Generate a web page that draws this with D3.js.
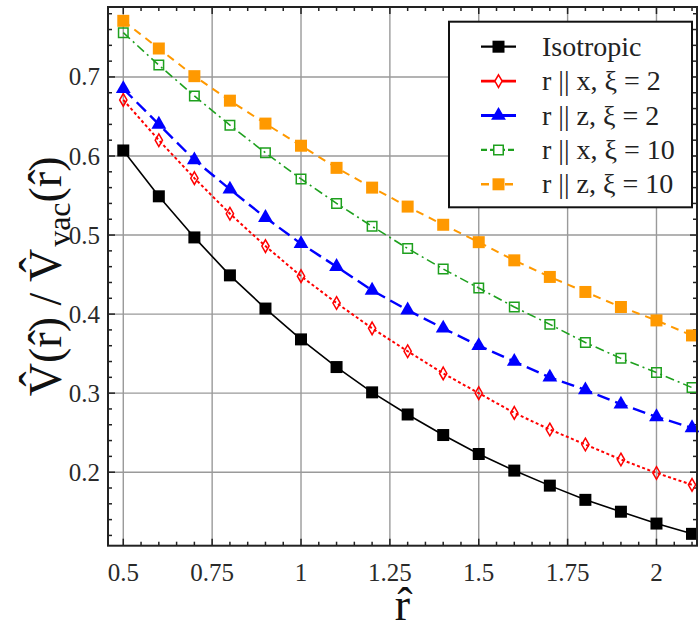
<!DOCTYPE html>
<html>
<head>
<meta charset="utf-8">
<script src="https://cdnjs.cloudflare.com/ajax/libs/d3/7.8.5/d3.min.js"></script>
<style>
    html, body { margin: 0; padding: 0; background: #fff; }
    svg { display: block; }
    svg text { font-family: "Liberation Serif", "DejaVu Serif", serif; }
</style>
</head>
<body>
<div id="chart"></div>
<script>
// datos
const rValues = [0.5, 0.6, 0.7, 0.8, 0.9, 1.0, 1.1, 1.2, 1.3, 1.4, 1.5, 1.6, 1.7, 1.8, 1.9, 2.0, 2.1];
const isotropic = [0.607, 0.549, 0.497, 0.449, 0.407, 0.368, 0.333, 0.301, 0.273, 0.247, 0.223, 0.202, 0.183, 0.165, 0.150, 0.135, 0.122];
const rxXi2 = [0.671, 0.620, 0.572, 0.527, 0.486, 0.448, 0.414, 0.382, 0.353, 0.325, 0.300, 0.275, 0.254, 0.235, 0.216, 0.199, 0.184];
const rzXi2 = [0.685, 0.640, 0.595, 0.558, 0.522, 0.489, 0.460, 0.430, 0.405, 0.382, 0.360, 0.340, 0.320, 0.304, 0.286, 0.270, 0.256];
const rxXi10 = [0.756, 0.715, 0.676, 0.639, 0.604, 0.571, 0.540, 0.511, 0.483, 0.457, 0.433, 0.409, 0.387, 0.364, 0.344, 0.326, 0.307];
const rzXi10 = [0.771, 0.736, 0.701, 0.670, 0.641, 0.613, 0.585, 0.560, 0.536, 0.513, 0.491, 0.468, 0.447, 0.428, 0.409, 0.392, 0.373];

const xTicks = [0.5, 0.75, 1, 1.25, 1.5, 1.75, 2];
const xTickLabels = ['0.5', '0.75', '1', '1.25', '1.5', '1.75', '2'];
const yTicks = [0.2, 0.3, 0.4, 0.5, 0.6, 0.7];
const yTickLabels = ['0.2', '0.3', '0.4', '0.5', '0.6', '0.7'];

const seriesNames = ['Isotropic', 'r || x, ξ = 2', 'r || z, ξ = 2', 'r || x, ξ = 10', 'r || z, ξ = 10'];
const seriesValues = [isotropic, rxXi2, rzXi2, rxXi10, rzXi10];

const styles = [
    { color: '#000000', dash: null, width: 1.6, symbol: d3.symbolSquare, size: 144, filled: true },
    { color: '#ff0000', dash: '3,2.5', width: 2, symbol: d3.symbolDiamond, size: 46, filled: false },
    { color: '#0000ff', dash: '13,6', width: 2.4, symbol: d3.symbolTriangle, size: 95, filled: true },
    { color: '#1ea01e', dash: '9,4,2,4', width: 1.6, symbol: d3.symbolSquare, size: 90, filled: false },
    { color: '#ff9900', dash: '8,6', width: 2, symbol: d3.symbolSquare, size: 144, filled: true }
];

const width = 699;
const height = 623;
const margin = { top: 7, right: 2, bottom: 77.3, left: 108 };

const svg = d3.select('#chart').append('svg')
    .attr('width', width)
    .attr('height', height);

const x = d3.scaleLinear().domain([0.457, 2.114]).range([margin.left, width - margin.right]);
const y = d3.scaleLinear().domain([0.107, 0.7885]).range([height - margin.bottom, margin.top]);

const x0 = x.range()[0], x1 = x.range()[1];
const y0 = y.range()[0], y1 = y.range()[1];

// grid
const grid = svg.append('g');
grid.selectAll('line.gx').data(xTicks).enter().append('line')
    .attr('x1', (d) => x(d)).attr('x2', (d) => x(d))
    .attr('y1', y1).attr('y2', y0)
    .attr('stroke', '#9a9a9a').attr('stroke-width', 1.4);
grid.selectAll('line.gy').data(yTicks).enter().append('line')
    .attr('x1', x0).attr('x2', x1)
    .attr('y1', (d) => y(d)).attr('y2', (d) => y(d))
    .attr('stroke', '#9a9a9a').attr('stroke-width', 1.4);

// ticks (majores y minores) en los cuatro lados
const xMinor = d3.range(0.5, 2.1001, 0.05).filter((v) => !xTicks.some((t) => Math.abs(t - v) < 1e-6));
const yMinor = d3.range(0.12, 0.7801, 0.02).filter((v) => !yTicks.some((t) => Math.abs(t - v) < 1e-6));
const ticks = svg.append('g').attr('stroke', '#222');
[[xTicks, 7], [xMinor, 4]].forEach(([vals, len]) => {
    ticks.selectAll(null).data(vals).enter().append('line')
        .attr('x1', (d) => x(d)).attr('x2', (d) => x(d))
        .attr('y1', y0).attr('y2', y0 - len).attr('stroke-width', 1.5);
    ticks.selectAll(null).data(vals).enter().append('line')
        .attr('x1', (d) => x(d)).attr('x2', (d) => x(d))
        .attr('y1', y1).attr('y2', y1 + len).attr('stroke-width', 1.5);
});
[[yTicks, 7], [yMinor, 4]].forEach(([vals, len]) => {
    ticks.selectAll(null).data(vals).enter().append('line')
        .attr('x1', x0).attr('x2', x0 + len)
        .attr('y1', (d) => y(d)).attr('y2', (d) => y(d)).attr('stroke-width', 1.5);
    ticks.selectAll(null).data(vals).enter().append('line')
        .attr('x1', x1).attr('x2', x1 - len)
        .attr('y1', (d) => y(d)).attr('y2', (d) => y(d)).attr('stroke-width', 1.5);
});

// series
const lineGen = d3.line().x((d) => x(d[0])).y((d) => y(d[1]));
seriesValues.forEach((vals, i) => {
    const st = styles[i];
    const pts = rValues.map((r, j) => [r, vals[j]]);
    svg.append('path')
        .datum(pts)
        .attr('d', lineGen)
        .attr('fill', 'none')
        .attr('stroke', st.color)
        .attr('stroke-width', st.width)
        .attr('stroke-dasharray', st.dash);
    svg.append('g').selectAll('path').data(pts).enter().append('path')
        .attr('d', d3.symbol().type(st.symbol).size(st.size))
        .attr('transform', (d) => `translate(${x(d[0])}, ${y(d[1])})`)
        .attr('fill', st.filled ? st.color : 'none')
        .attr('stroke', st.color)
        .attr('stroke-width', st.filled ? 0 : 1.5);
});

// marco
svg.append('rect')
    .attr('x', x0).attr('y', y1)
    .attr('width', x1 - x0).attr('height', y0 - y1)
    .attr('fill', 'none').attr('stroke', '#222').attr('stroke-width', 2);

// etiquetas de ticks
svg.append('g').selectAll('text').data(xTicks).enter().append('text')
    .attr('x', (d) => x(d))
    .attr('y', 581)
    .attr('text-anchor', 'middle')
    .attr('font-size', '25px')
    .attr('fill', '#2a2a2a')
    .text((d, i) => xTickLabels[i]);
svg.append('g').selectAll('text').data(yTicks).enter().append('text')
    .attr('x', 100)
    .attr('y', (d) => y(d) + 8.5)
    .attr('text-anchor', 'end')
    .attr('font-size', '25px')
    .attr('fill', '#2a2a2a')
    .text((d, i) => yTickLabels[i]);

// titulos de ejes
svg.append('text')
    .attr('x', (x0 + x1) / 2)
    .attr('y', 620)
    .attr('text-anchor', 'middle')
    .attr('font-size', '46px')
    .attr('fill', '#111')
    .text('r\u0302');

const yLabel = svg.append('text')
    .attr('transform', `translate(61, ${(y0 + y1) / 2}) rotate(-90)`)
    .attr('text-anchor', 'middle')
    .attr('font-size', '46px')
    .attr('fill', '#111');
yLabel.append('tspan').text('V\u0302(r\u0302) / V\u0302');
yLabel.append('tspan').attr('font-size', '32px').attr('dx', 2).attr('dy', 9).text('vac');
yLabel.append('tspan').attr('dy', -9).text('(r\u0302)');

// leyenda
const legend = svg.append('g');
legend.append('rect')
    .attr('x', 449).attr('y', 21.7)
    .attr('width', 243).attr('height', 185.6)
    .attr('fill', '#fff').attr('stroke', '#111').attr('stroke-width', 2);
seriesNames.forEach((name, i) => {
    const st = styles[i];
    const cy = 46.7 + i * 34.4;
    legend.append('line')
        .attr('x1', 481).attr('x2', 516)
        .attr('y1', cy).attr('y2', cy)
        .attr('stroke', st.color)
        .attr('stroke-width', st.width + 0.6)
        .attr('stroke-dasharray', i === 3 ? '6,3' : (i === 4 ? '8,4' : null));
    legend.append('path')
        .attr('d', d3.symbol().type(st.symbol).size(st.size))
        .attr('transform', `translate(498.5, ${cy})`)
        .attr('fill', st.filled ? st.color : '#fff')
        .attr('stroke', st.color)
        .attr('stroke-width', st.filled ? 0 : 1.5);
    legend.append('text')
        .attr('x', 542)
        .attr('y', cy + 9)
        .attr('font-size', '28px')
        .attr('fill', '#222')
        .text(name);
});
</script>
</body>
</html>
